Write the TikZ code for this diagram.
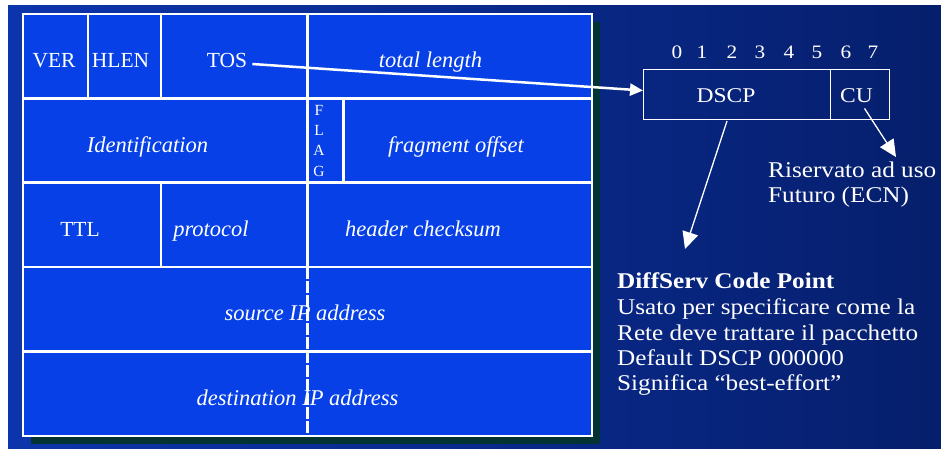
\documentclass[tikz,border=0pt]{standalone}
\usepackage{fontspec}
\setmainfont{Liberation Serif}
\newfontfamily\widefont{Liberation Serif}[FakeStretch=1.12]
\usetikzlibrary{arrows.meta}

\definecolor{bgleft}{HTML}{0C34AC}
\definecolor{bgright}{HTML}{061F6C}
\definecolor{cellblue}{HTML}{0640E6}
\definecolor{shadowteal}{HTML}{033333}

\begin{document}
\begin{tikzpicture}[x=1pt,y=-1pt,
  cell/.style={draw=white,line width=2.6pt,fill=cellblue,anchor=north west,inner sep=0pt,outer sep=0pt},
  tlab/.style={text=white,inner sep=0pt,anchor=base,font=\fontsize{21.5}{24}\selectfont},
  tital/.style={tlab,font=\fontsize{22.5}{25}\selectfont\itshape},
  flaglab/.style={text=white,inner sep=0pt,anchor=north,align=center,font=\fontsize{15.5}{20.3}\selectfont},
  wlab/.style={text=white,inner sep=0pt,anchor=base west,font=\widefont\fontsize{22.5}{25}\selectfont},
  boxlab/.style={text=white,inner sep=0pt,anchor=base,font=\widefont\fontsize{21}{24}\selectfont},
  bitlab/.style={text=white,inner sep=0pt,anchor=base,font=\widefont\fontsize{19}{22}\selectfont},
  field/.style={draw=white,line width=1pt,anchor=north west,minimum height=50pt,inner sep=0pt,outer sep=0pt},
  bigtip/.style={-{Triangle[length=17pt,width=16pt]},white,line width=1.3pt},
  tostip/.style={-{Triangle[length=13pt,width=12pt]},white,line width=2.5pt},
]
\useasboundingbox (0,0) rectangle (941,448);
% page background
\fill[white] (0,0) rectangle (941,448);
\shade[left color=bgleft,right color=bgright] (8,5) rectangle (941,448);
% drop shadow of the header table
\fill[shadowteal] (31,22) rectangle (600,444);

% IPv4 header cells
\node[cell,minimum width=65pt,minimum height=84.5pt] (ver) at (23,14) {};
\node[cell,minimum width=73pt,minimum height=84.5pt] (hlen) at (88,14) {};
\node[cell,minimum width=146.5pt,minimum height=84.5pt] (tos) at (161,14) {};
\node[cell,minimum width=284.5pt,minimum height=84.5pt] (totlen) at (307.5,14) {};
\node[cell,minimum width=284.5pt,minimum height=84pt] (ident) at (23,98.5) {};
\node[cell,minimum width=36pt,minimum height=84pt] (flag) at (307.5,98.5) {};
\node[cell,minimum width=248.5pt,minimum height=84pt] (fragoff) at (343.5,98.5) {};
\node[cell,minimum width=138pt,minimum height=84.5pt] (ttl) at (23,182.5) {};
\node[cell,minimum width=146.5pt,minimum height=84.5pt] (proto) at (161,182.5) {};
\node[cell,minimum width=284.5pt,minimum height=84.5pt] (chksum) at (307.5,182.5) {};
\node[cell,minimum width=569pt,minimum height=84.5pt] (src) at (23,267) {};
\node[cell,minimum width=569pt,minimum height=84.5pt] (dst) at (23,351.5) {};
% 16-bit boundary inside the address rows
\draw[white,line width=2.4pt,dash pattern=on 12pt off 2pt] (chksum.south west) -- (dst.south -| chksum.west);

% field names
\node[tlab] (lver) at (54,67) {VER};
\node[tlab] (lhlen) at (120.5,67) {HLEN};
\node[tlab] (ltos) at (227,67) {TOS};
\node[tital] (ltot) at (430.5,67) {total length};
\node[tital] (lident) at (147.5,152) {Identification};
\node[flaglab] (lflag) at (319,105) {F\\L\\A\\G};
\node[tital] (lfrag) at (456,152) {fragment offset};
\node[tlab] (lttl) at (80,236) {TTL};
\node[tital] (lproto) at (211,236) {protocol};
\node[tital] (lchk) at (423,236) {header checksum};
\node[tital] (lsrc) at (305,320) {source IP address};
\node[tital] (ldst) at (297.5,405) {destination IP address};

% TOS byte layout
\foreach \i/\x in {0/677,1/702,2/732,3/760,4/789,5/817,6/846,7/873}
  \node[bitlab] (bit\i) at (\x,58) {\i};
\node[field,minimum width=187pt] (dscp) at (643,69) {};
\node[field,minimum width=59pt] (cu) at (830,69) {};
\node[boxlab] (ldscp) at (726,102) {DSCP};
\node[boxlab] (lcu) at (856.5,102) {CU};

% connectors
\draw[tostip] ([shift={(5,-3)}]ltos.base east) -- ([yshift=3.5pt]dscp.west);
\coordinate (dsnote) at (685,249);
\coordinate (cunote) at (896,157);
\draw[bigtip] ([xshift=-9.5pt,yshift=-2pt]dscp.south) -- (dsnote);
\draw[bigtip] ([xshift=8pt,yshift=-6pt]lcu.south) -- (cunote);

% notes
\node[wlab] (res1) at (768,177) {Riservato ad uso};
\node[wlab] (res2) at (768,202) {Futuro (ECN)};
\node[wlab,font=\widefont\bfseries\fontsize{22.5}{25}\selectfont] (ds1) at (617,288) {DiffServ Code Point};
\node[wlab] (ds2) at (617,314) {Usato per specificare come la};
\node[wlab] (ds3) at (617,340) {Rete deve trattare il pacchetto};
\node[wlab] (ds4) at (617,365) {Default DSCP 000000};
\node[wlab] (ds5) at (617,390) {Significa “best-effort”};
\end{tikzpicture}
\end{document}
